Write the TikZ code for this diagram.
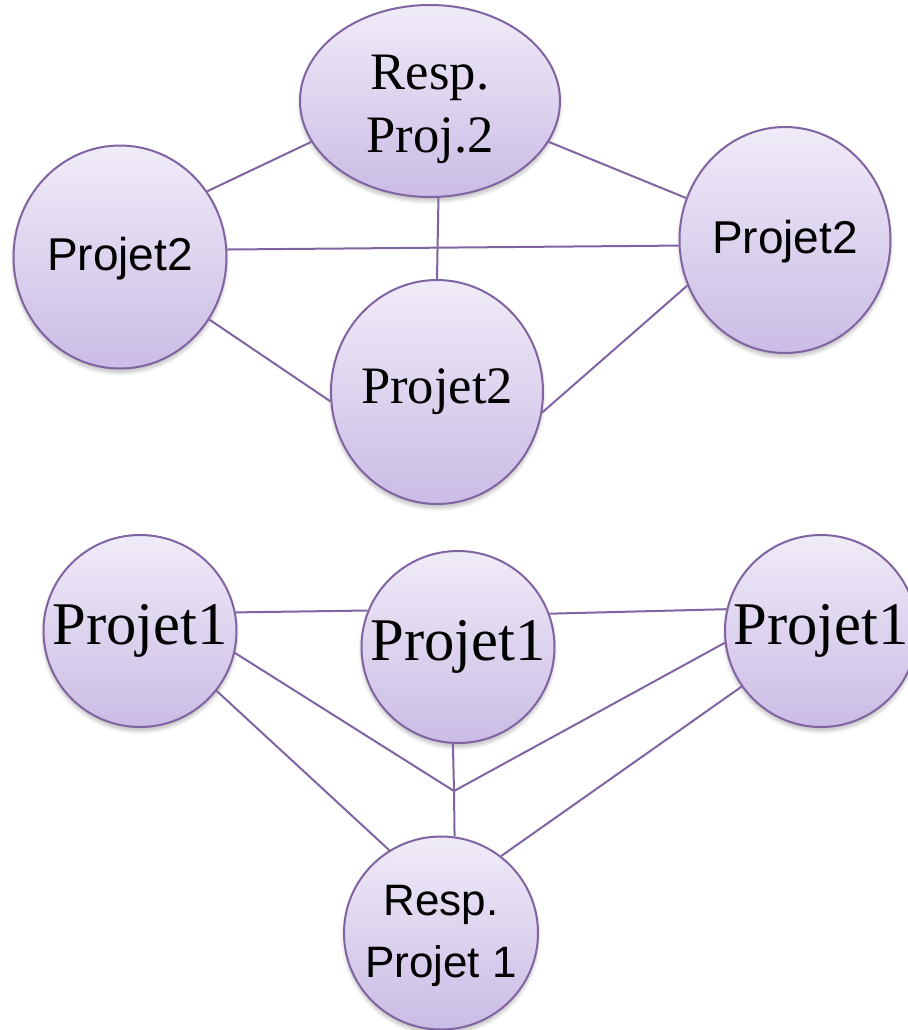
\documentclass[tikz,border=0pt]{standalone}
\usepackage{fontspec}
\setmainfont{Liberation Serif}
\newfontfamily\arialf{Liberation Sans}
\usetikzlibrary{shapes.geometric,shadows.blur}
\definecolor{linec}{RGB}{128,100,162}
\definecolor{topc}{RGB}{240,235,248}
\definecolor{botc}{RGB}{202,188,229}
\tikzset{
  bub/.style={ellipse, draw=linec, line width=1pt, top color=topc, bottom color=botc, inner sep=0pt,
    blur shadow={shadow xshift=0pt, shadow yshift=-2pt, shadow blur steps=6, shadow opacity=25}},
  conn/.style={draw=linec, line width=1pt},
  sansA/.style={font=\arialf\fontsize{23}{27}\selectfont, inner sep=0pt},
  sansB/.style={font=\arialf\fontsize{22}{31}\selectfont, align=center, inner sep=0pt},
  serA/.style={font=\fontsize{26.3}{31.5}\selectfont, align=center, inner sep=0pt},
  serB/.style={font=\fontsize{30.3}{34}\selectfont, inner sep=0pt},
}
\begin{document}
\begin{tikzpicture}[x=0.5pt,y=-0.5pt]
\useasboundingbox (0,0) rectangle (907,1030);
% top group
\node[bub, minimum width=130pt, minimum height=96pt, label={[serA, yshift=-4pt]center:Resp.\\Proj.2}] (rp2) at (430,101) {};
\node[bub, minimum width=106.5pt, minimum height=111.5pt, label={[sansA, yshift=-1pt]center:Projet2}] (lp2) at (120,257) {};
\node[bub, minimum width=105.5pt, minimum height=113pt, label={[sansA, yshift=-1pt]center:Projet2}] (rtp2) at (785,240) {};
\node[bub, minimum width=106pt, minimum height=112pt, label={[serA]center:Projet2}] (mp2) at (437,392) {};
% bottom group
\node[bub, minimum width=96.5pt, minimum height=96pt, label={[serB]center:Projet1}] (lp1) at (140,631) {};
\node[bub, minimum width=96.5pt, minimum height=96pt, label={[serB]center:Projet1}] (mp1) at (458,647) {};
\node[bub, minimum width=96pt, minimum height=96pt, label={[serB]center:Projet1}] (rtp1) at (821,631) {};
\node[bub, minimum width=97pt, minimum height=96.5pt, label={[sansB, yshift=-1.5pt]center:Resp.\\Projet 1}] (rr1) at (441,933) {};
\coordinate (J) at (454,791);
% top connectors
\draw[conn] (lp2.37) -- (rp2.199.6);
\draw[conn] (rp2.-19.7) -- (rtp2.157.2);
\draw[conn] (rp2.-85.8) -- (mp2.90);
\draw[conn] (lp2.4.9) -- (rtp2.183.8);
\draw[conn] (lp2.-35.7) -- (mp2.185.9);
\draw[conn] (rtp2.205.2) -- (mp2.-11.2);
% bottom connectors
\draw[conn] (lp1.11.6) -- (mp1.158.9);
\draw[conn] (mp1.20.3) -- (rtp1.167.7);
\draw[conn] (lp1.-13.8) -- (J);
\draw[conn] (rtp1.187) -- (J);
\draw[conn] (mp1.267.7) -- (J);
\draw[conn] (J) -- (rr1.82.3);
\draw[conn] (lp1.-38.4) -- (rr1.122.2);
\draw[conn] (rtp1.215.1) -- (rr1.52.9);
\end{tikzpicture}
\end{document}
